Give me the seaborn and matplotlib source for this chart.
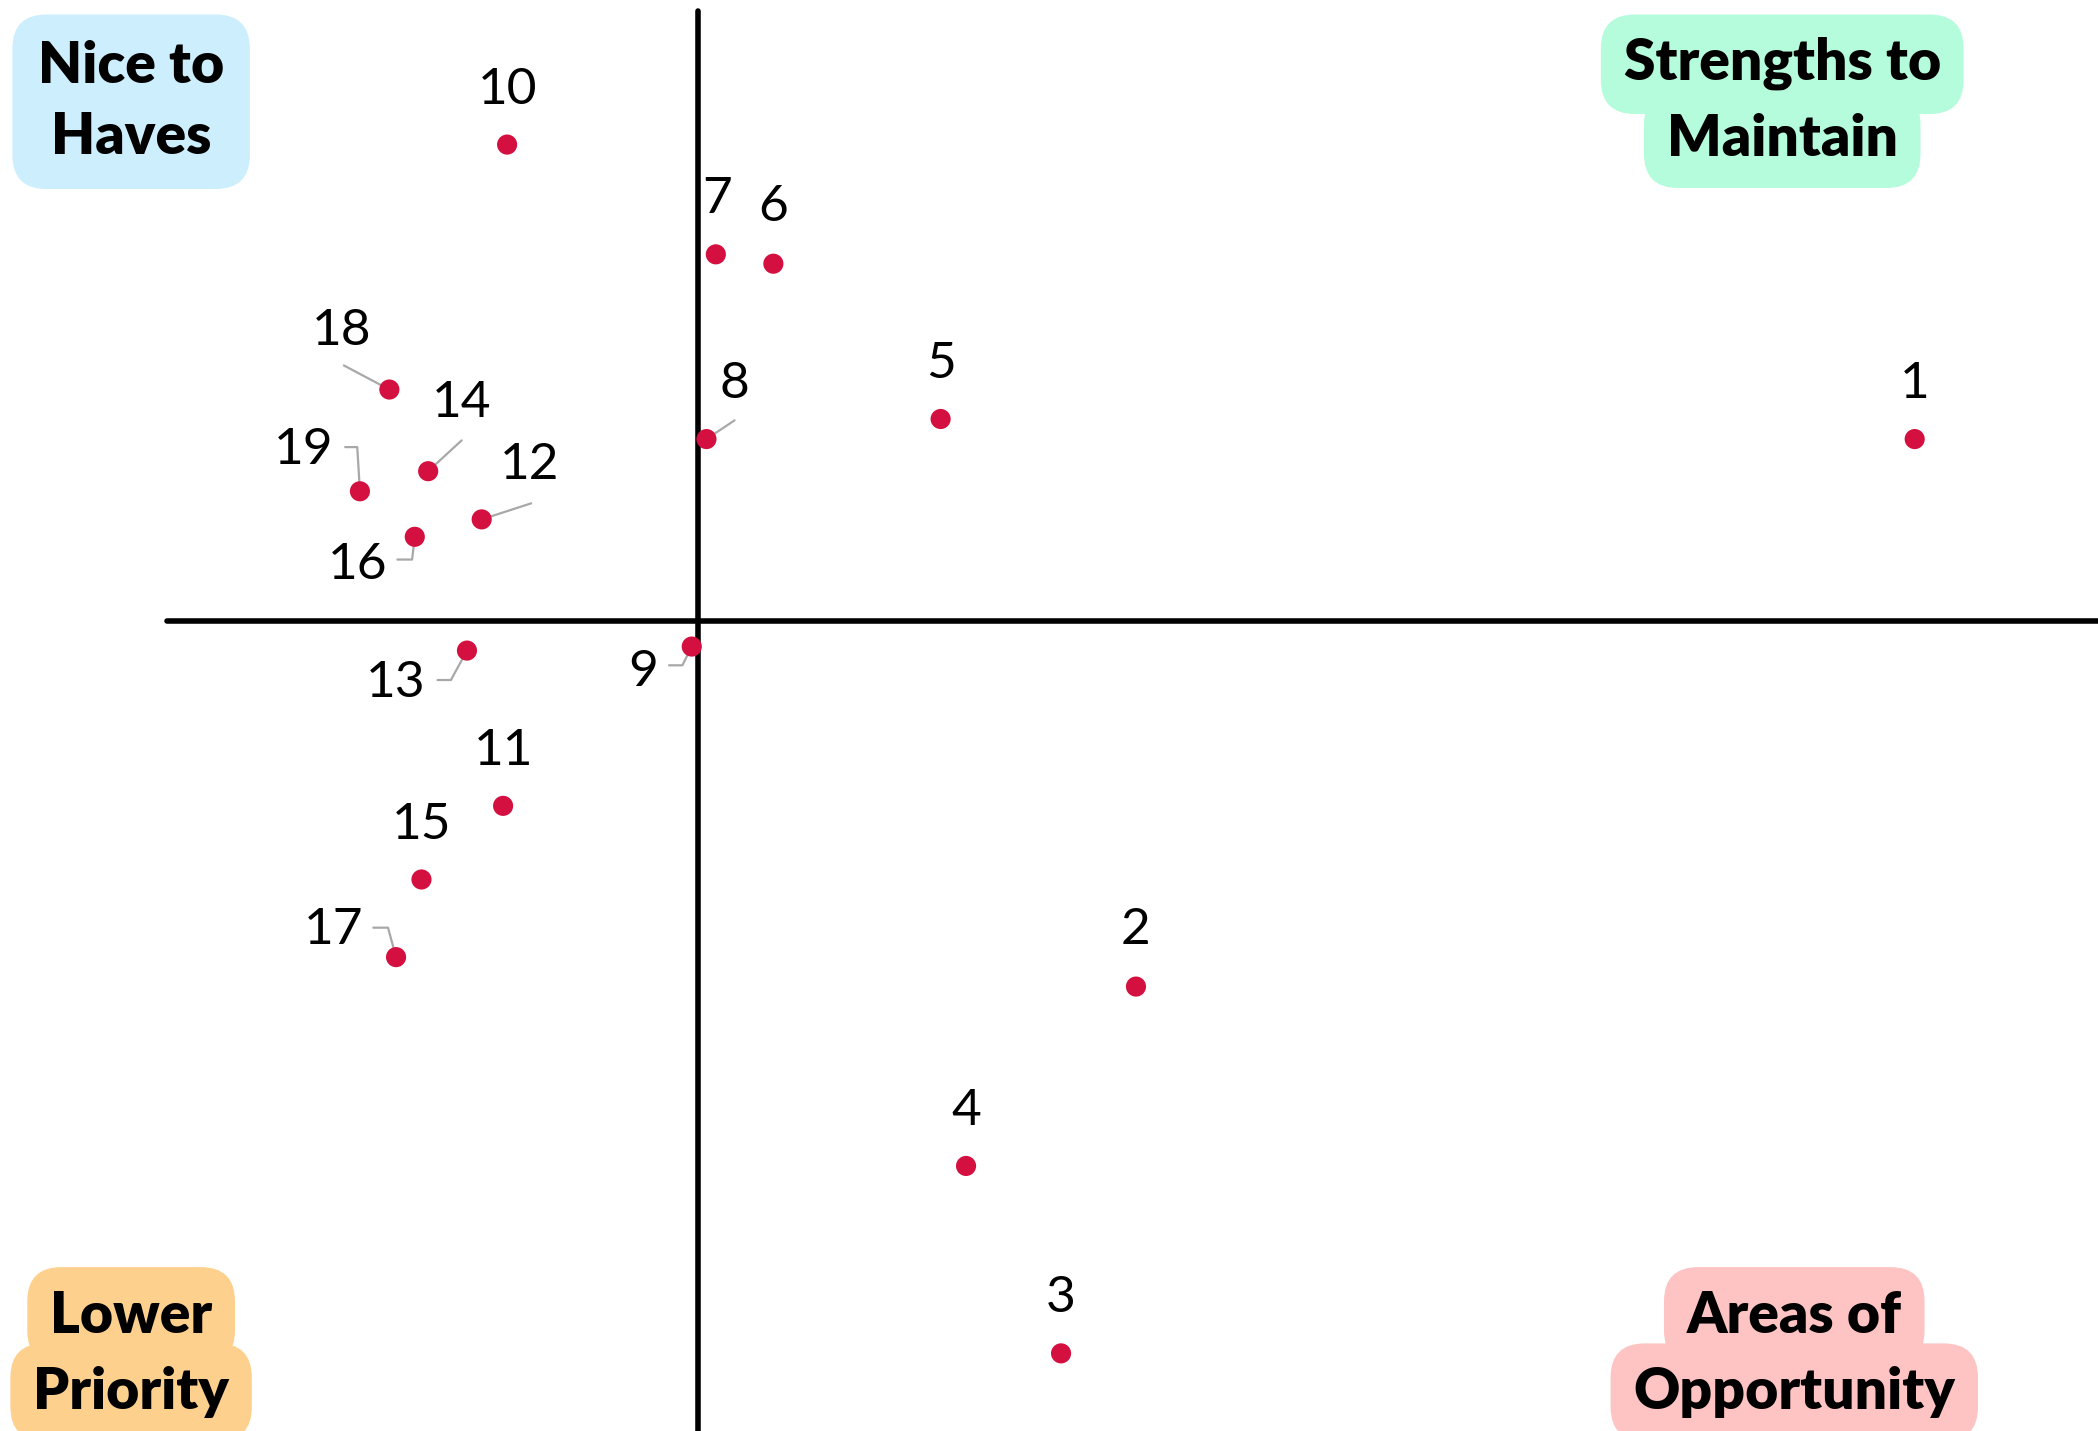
import pandas as pd
import matplotlib.pyplot as plt
import seaborn as sns

# === Data: items on the importance / performance grid (axes cross at 0, 0) ===
item_ids = [str(i) for i in range(1, 20)]
x_vals = [9.09, 3.27, 2.71, 2.00, 1.81, 0.56, 0.13, 0.06, -0.05, -1.43,
          -1.46, -1.62, -1.73, -2.02, -2.07, -2.12, -2.26, -2.31, -2.53]
y_vals = [1.36, -2.73, -5.47, -4.07, 1.51, 2.67, 2.74, 1.36, -0.19, 3.56,
          -1.38, 0.76, -0.22, 1.12, -1.93, 0.63, -2.51, 1.73, 0.97]

quadrant_names = [["Nice to", "Haves"], ["Strengths to", "Maintain"],
                  ["Lower", "Priority"], ["Areas of", "Opportunity"]]

df = pd.DataFrame({"item": item_ids, "x": x_vals, "y": y_vals})

# label offsets (data units) for the numbers
label_dx = [0, 0, 0, 0, 0, 0, 0.01, 0.21, -0.36, 0,
            0, 0.36, -0.53, 0.25, 0, -0.43, -0.47, -0.36, -0.42]
label_dy = [0.41, 0.42, 0.41, 0.41, 0.41, 0.42, 0.41, 0.41, -0.19, 0.41,
            0.41, 0.41, -0.24, 0.51, 0.41, -0.21, 0.20, 0.44, 0.31]

# leader lines (label end -> marker), elbow ones get an extra point
leaders = {
    "18": [(-2.65, 1.91)],
    "14": [(-1.77, 1.35)],
    "12": [(-1.25, 0.88)],
    "19": [(-2.64, 1.30), (-2.55, 1.30)],
    "16": [(-2.25, 0.46), (-2.14, 0.46)],
    "13": [(-1.95, -0.44), (-1.85, -0.44)],
    "9": [(-0.22, -0.33), (-0.12, -0.33)],
    "17": [(-2.43, -2.29), (-2.32, -2.29)],
    "8": [(0.27, 1.50)],
}

sns.set_style("white")
plt.rcParams["font.family"] = ["Lato", "DejaVu Sans"]
plt.rcParams["text.color"] = "black"

fig = plt.figure(figsize=(20.98, 14.31), dpi=100)
ax = fig.add_axes([0, 0, 1, 1])

# quadrant axes
ax.plot([0, 0], [-6.05, 4.56], color="black", lw=4, zorder=1)
ax.plot([-3.97, 10.46], [0, 0], color="black", lw=4, zorder=1)

# leader lines
for item, pts in leaders.items():
    row = df[df["item"] == item].iloc[0]
    xs = [p[0] for p in pts] + [row["x"]]
    ys = [p[1] for p in pts] + [row["y"]]
    ax.plot(xs, ys, color="#a8a8a8", lw=1.6, zorder=2)

sns.scatterplot(data=df, x="x", y="y", color="#d3103f", s=210,
                edgecolor="none", ax=ax, zorder=3, legend=False)
ax.set_xlim(-5.22, 10.46)
ax.set_ylim(-6.05, 4.64)
ax.axis("off")

for i, row in df.iterrows():
    ax.text(row["x"] + label_dx[i], row["y"] + label_dy[i], row["item"],
            ha="center", va="center", fontsize=37, color="black", zorder=4)

# quadrant labels with rounded backgrounds
box_colors = ["#cdeefc", "#b4fcdb", "#fed08e", "#fec3c3"]
box_pos = [(98, 48, 104), (1332, 48, 104), (98, 983, 1040), (1341, 983, 1040)]
for names, col, (cx, y1, y2) in zip(quadrant_names, box_colors, box_pos):
    if names[0] == "Nice to":
        ax.text(cx / 1568, 1 - 76 / 1069, "\n".join(names), transform=ax.transAxes,
                ha="center", va="center", fontsize=41, fontweight="heavy",
                linespacing=1.45, color="black",
                bbox=dict(boxstyle="round,pad=0.45,rounding_size=0.6", fc=col, ec="none"))
        continue
    for txt, yy in zip(names, (y1, y2)):
        ax.text(cx / 1568, 1 - yy / 1069, txt, transform=ax.transAxes,
                ha="center", va="center", fontsize=41, fontweight="heavy",
                color="black",
                bbox=dict(boxstyle="round,pad=0.4,rounding_size=0.6", fc=col, ec="none"))

plt.savefig("out.png", dpi=100)
